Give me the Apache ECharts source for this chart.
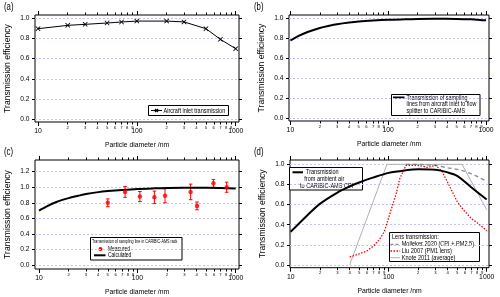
<!DOCTYPE html>
<html><head><meta charset="utf-8">
<script src="https://cdn.jsdelivr.net/npm/echarts@6/dist/echarts.min.js"></script>
<style>html,body{margin:0;padding:0;background:#fff}#c{width:500px;height:297px}</style>
</head><body><div id="c"></div>
<script>
// ---------- data ----------
const majorTicks = [10, 100, 1000];
const minorTicks = [20,30,40,50,60,70,80,90,200,300,400,500,600,700,800,900];
const yTicksStd = [0, 0.2, 0.4, 0.6, 0.8, 1.0];
const yTicksC = [0, 0.2, 0.4, 0.6, 0.8, 1.0, 1.2];

// (a) aircraft inlet
const inletD = [10, 20, 30, 50, 70, 100, 200, 300, 500, 700, 1000];
const inletT = [0.895, 0.928, 0.938, 0.951, 0.961, 0.970, 0.970, 0.962, 0.895, 0.790, 0.698];

// (b) sampling lines inlet -> flow splitter
const lineBD = [10, 12, 15, 20, 25, 30, 40, 50, 70, 100, 150, 200, 300, 500, 700, 1000];
const lineBT = [0.778, 0.822, 0.863, 0.903, 0.925, 0.940, 0.957, 0.967, 0.977, 0.985, 0.990, 0.993, 0.995, 0.994, 0.990, 0.980];

// (c) sampling line in rack
const calcCD = [10, 12, 15, 20, 25, 30, 40, 50, 70, 100, 150, 200, 300, 500, 700, 1000];
const calcCT = [0.700, 0.755, 0.810, 0.860, 0.890, 0.913, 0.937, 0.950, 0.965, 0.978, 0.986, 0.990, 0.993, 0.993, 0.990, 0.985];
const measD = [50, 75, 106, 149, 191, 348, 404, 593, 809];
const measT = [0.80, 0.94, 0.88, 0.87, 0.89, 0.94, 0.76, 1.05, 1.00];
const measE = [0.05, 0.07, 0.065, 0.08, 0.09, 0.10, 0.05, 0.05, 0.065];

// (d) ambient -> CPI and lens transmissions
const totalD = [10, 15, 20, 30, 40, 50, 70, 100, 150, 200, 300, 400, 500, 700, 1000];
const totalT = [0.33, 0.50, 0.61, 0.72, 0.78, 0.82, 0.87, 0.915, 0.94, 0.95, 0.945, 0.92, 0.885, 0.77, 0.65];
const mollD = [150, 200, 300, 400, 500, 600, 700, 800, 1000];
const mollT = [1.0, 1.0, 0.99, 0.965, 0.95, 0.93, 0.905, 0.88, 0.83];
const liuD = [40, 50, 60, 70, 80, 90, 100, 110, 120, 130, 150, 200, 250, 300, 350, 400, 500, 600, 700, 800, 1000];
const liuT = [0.08, 0.11, 0.14, 0.19, 0.25, 0.33, 0.47, 0.60, 0.72, 0.86, 0.99, 0.99, 0.97, 0.99, 0.93, 0.82, 0.63, 0.53, 0.46, 0.42, 0.34];
const knoteD = [40, 96, 560, 1000];
const knoteT = [0, 1.0, 1.0, 0.55];

// ---------- helpers ----------
const SANS = "'Liberation Sans', Arial, Helvetica, sans-serif";
const zip = (xs, ys) => xs.map((x, i) => [x, ys[i]]);

const panels = [
  {left: 35,  top: 15,  width: 204, height: 107,   xmin: 9.33, xmax: 1080, ymin: -0.025, ymax: 1.03,  yt: yTicksStd},
  {left: 289, top: 15,  width: 200, height: 106,   xmin: 9.68, xmax: 1073, ymin: -0.027, ymax: 1.033, yt: yTicksStd},
  {left: 35,  top: 160, width: 204, height: 109,   xmin: 9.10, xmax: 1080, ymin: -0.051, ymax: 1.35,  yt: yTicksC},
  {left: 290, top: 160, width: 199, height: 107.7, xmin: 9.84, xmax: 1056, ymin: -0.027, ymax: 1.043, yt: yTicksStd}
];

const grids = [], xAxes = [], yAxes = [];
panels.forEach((p, i) => {
  grids.push({left: p.left, top: p.top, width: p.width, height: p.height, show: true,
    borderColor: '#000', borderWidth: 1, backgroundColor: 'transparent', containLabel: false});
  const xBase = {type: 'log', logBase: 10, gridIndex: i, min: p.xmin, max: p.xmax,
    axisLine: {show: false, onZero: false}, splitLine: {show: false}, minorTick: {show: false}};
  xAxes.push(Object.assign({}, xBase, {position: 'bottom',
    name: 'Particle diameter /nm', nameLocation: 'middle', nameGap: 20,
    nameTextStyle: {fontFamily: SANS, fontSize: 6.8, color: '#000'},
    axisTick: {customValues: majorTicks, length: 4, lineStyle: {color: '#000', width: 1}},
    axisLabel: {customValues: majorTicks, margin: 6, fontFamily: SANS, fontSize: 6.8, color: '#000',
      formatter: v => String(Math.round(v))}}));
  xAxes.push(Object.assign({}, xBase, {position: 'bottom',
    axisTick: {customValues: minorTicks, length: 2.5, lineStyle: {color: '#000', width: 1}},
    axisLabel: {customValues: minorTicks, margin: 3.4, fontFamily: SANS, fontSize: 4.2, color: '#000',
      formatter: v => String(Math.round(v / Math.pow(10, Math.floor(Math.log10(v) + 1e-9))))}}));
  xAxes.push(Object.assign({}, xBase, {position: 'top',
    axisTick: {customValues: majorTicks, length: 4, lineStyle: {color: '#000', width: 1}},
    axisLabel: {show: false, customValues: majorTicks}}));
  xAxes.push(Object.assign({}, xBase, {position: 'top',
    axisTick: {customValues: minorTicks, length: 2.5, lineStyle: {color: '#000', width: 1}},
    axisLabel: {show: false, customValues: minorTicks}}));
  yAxes.push({type: 'value', gridIndex: i, position: 'left', min: p.ymin, max: p.ymax,
    name: 'Transmission efficiency', nameLocation: 'middle', nameRotate: 90, nameGap: 23,
    nameTextStyle: {fontFamily: SANS, fontSize: 8.6, color: '#000'},
    axisLine: {show: false, onZero: false},
    axisTick: {customValues: p.yt, length: 3, lineStyle: {color: '#000', width: 1}},
    axisLabel: {customValues: p.yt, margin: 5.5, fontFamily: SANS, fontSize: 6.6, color: '#000',
      formatter: v => v.toFixed(1)},
    splitLine: {show: true, lineStyle: {color: '#c4c4f4', width: 1, type: [2, 2]}}});
  yAxes.push({type: 'value', gridIndex: i, position: 'right', min: p.ymin, max: p.ymax,
    axisLine: {show: false, onZero: false},
    axisTick: {customValues: p.yt, length: 3, lineStyle: {color: '#000', width: 1}},
    axisLabel: {show: false, customValues: p.yt},
    splitLine: {show: false}});
});

const cross = 'path://M0,1.2L1.2,0L5,3.8L8.8,0L10,1.2L6.2,5L10,8.8L8.8,10L5,6.2L1.2,10L0,8.8L3.8,5Z';

const series = [
  {name: 'Aircraft inlet transmission', type: 'line', xAxisIndex: 0, yAxisIndex: 0,
   data: zip(inletD, inletT), symbol: cross, symbolSize: 5, showSymbol: true,
   lineStyle: {color: '#000', width: 1}, itemStyle: {color: '#000'}},
  {name: 'Transmission of sampling lines', type: 'line', xAxisIndex: 4, yAxisIndex: 2,
   data: zip(lineBD, lineBT), smooth: 0.3, showSymbol: false, lineStyle: {color: '#000', width: 2}},
  {name: 'Calculated', type: 'line', xAxisIndex: 8, yAxisIndex: 4,
   data: zip(calcCD, calcCT), smooth: 0.3, showSymbol: false, lineStyle: {color: '#000', width: 2}},
  {name: 'Measured error', type: 'custom', xAxisIndex: 8, yAxisIndex: 4,
   data: measD.map((d, i) => [d, measT[i] - measE[i], measT[i] + measE[i]]),
   encode: {x: 0, y: [1, 2]},
   renderItem: (params, api) => {
     const x = api.value(0);
     const lo = api.coord([x, api.value(1)]);
     const hi = api.coord([x, api.value(2)]);
     const w = 1.8, st = {stroke: '#f00', lineWidth: 1};
     return {type: 'group', children: [
       {type: 'line', shape: {x1: lo[0], y1: lo[1], x2: hi[0], y2: hi[1]}, style: st},
       {type: 'line', shape: {x1: lo[0] - w, y1: lo[1], x2: lo[0] + w, y2: lo[1]}, style: st},
       {type: 'line', shape: {x1: hi[0] - w, y1: hi[1], x2: hi[0] + w, y2: hi[1]}, style: st}
     ]};
   }},
  {name: 'Measured', type: 'scatter', xAxisIndex: 8, yAxisIndex: 4,
   data: zip(measD, measT), symbol: 'circle', symbolSize: 4.5, itemStyle: {color: '#f00'}, z: 3},
  {name: 'Knote 2011 (average)', type: 'line', xAxisIndex: 12, yAxisIndex: 6,
   data: zip(knoteD, knoteT), showSymbol: false, lineStyle: {color: '#b0b0b0', width: 1}},
  {name: 'Molleker 2020 (CPI + PM2.5)', type: 'line', xAxisIndex: 12, yAxisIndex: 6,
   data: zip(mollD, mollT), showSymbol: false, lineStyle: {color: '#8a8a8a', width: 1.3, type: [4, 3]}},
  {name: 'Liu 2007 (PM1 lens)', type: 'line', xAxisIndex: 12, yAxisIndex: 6,
   data: zip(liuD, liuT), showSymbol: false, lineStyle: {color: '#f00', width: 1.3, type: [1.5, 1.5]}},
  {name: 'Transmission from ambient air to CARIBIC-AMS CPI', type: 'line', xAxisIndex: 12, yAxisIndex: 6,
   data: zip(totalD, totalT), smooth: 0.3, showSymbol: false, lineStyle: {color: '#000', width: 2}}
];
series.forEach(s => { s.animation = false; s.clip = true; });

// ---------- legend boxes & panel letters (decorations) ----------
const T = (x, y, text, size, sx) => ({type: 'text', x, y, scaleX: sx || 0.8, silent: true,
  style: {text, fontSize: size, fontFamily: SANS, fill: '#000', verticalAlign: 'middle', align: 'left'}});
const R = (x, y, w, h) => ({type: 'rect', silent: true, shape: {x, y, width: w, height: h},
  style: {fill: '#fff', stroke: '#000', lineWidth: 1}});
const L = (x1, y1, x2, y2, stroke, lw, dash) => ({type: 'line', silent: true, shape: {x1, y1, x2, y2},
  style: {stroke, lineWidth: lw, lineDash: dash || null}});

const gfx = [
  T(4, 7, '(a)', 10, 0.78), T(254, 7, '(b)', 10, 0.78), T(4, 152, '(c)', 10, 0.78), T(254, 152, '(d)', 10, 0.78),
  // (a)
  R(148.5, 105.5, 80, 10),
  L(151, 110.5, 162, 110.5, '#000', 1),
  L(155, 109, 158, 112, '#000', 1.2), L(155, 112, 158, 109, '#000', 1.2),
  T(163.5, 110.7, 'Aircraft inlet transmission', 7, 0.79),
  // (b)
  R(391.5, 94.5, 88.5, 21),
  L(393, 97.5, 404.5, 97.5, '#000', 2),
  T(406.5, 97.7, 'Transmission of sampling', 7, 0.77),
  T(406.5, 104.3, 'lines from aircraft inlet to flow', 7, 0.77),
  T(406.5, 111, 'splitter to CARIBIC-AMS', 7, 0.77),
  // (c)
  R(90.5, 237.5, 91.5, 22.5),
  T(92, 241.8, 'Transmission of sampling line in CARIBIC-AMS rack', 5.2, 0.71),
  {type: 'circle', silent: true, shape: {cx: 100.5, cy: 249, r: 2}, style: {fill: '#f00'}},
  T(108, 249, 'Measured', 6.6, 0.75),
  L(94, 255.3, 105.5, 255.3, '#000', 2),
  T(108, 255.5, 'Calculated', 6.6, 0.75),
  // (d) upper-left
  R(289.5, 167.5, 73, 22.5),
  L(292.5, 172.3, 303, 172.3, '#000', 2),
  T(306, 172.5, 'Transmission', 7, 0.79),
  T(304.3, 179.3, 'from ambient air', 7, 0.79),
  T(300, 185.8, 'to CARIBIC-AMS CPI', 7, 0.79),
  // (d) lens legend
  R(389.5, 232.5, 90, 29),
  T(392, 236.7, 'Lens transmission:', 7),
  L(390.5, 244.3, 400, 244.3, '#8a8a8a', 1.3, [3, 2]),
  T(401.7, 244.5, 'Molleker 2020 (CPI + PM2.5)', 7, 0.8),
  L(390.5, 251, 400, 251, '#f00', 1.3, [1.5, 1.5]),
  T(401.7, 251.2, 'Liu 2007 (PM1 lens)', 7),
  L(390.5, 257.7, 400, 257.7, '#b0b0b0', 1),
  T(401.7, 257.9, 'Knote 2011 (average)', 7)
];

const chart = echarts.init(document.getElementById('c'), null, {renderer: 'canvas'});
chart.setOption({
  animation: false,
  backgroundColor: '#fff',
  grid: grids,
  xAxis: xAxes,
  yAxis: yAxes,
  series: series,
  graphic: {elements: gfx}
});
</script></body></html>
